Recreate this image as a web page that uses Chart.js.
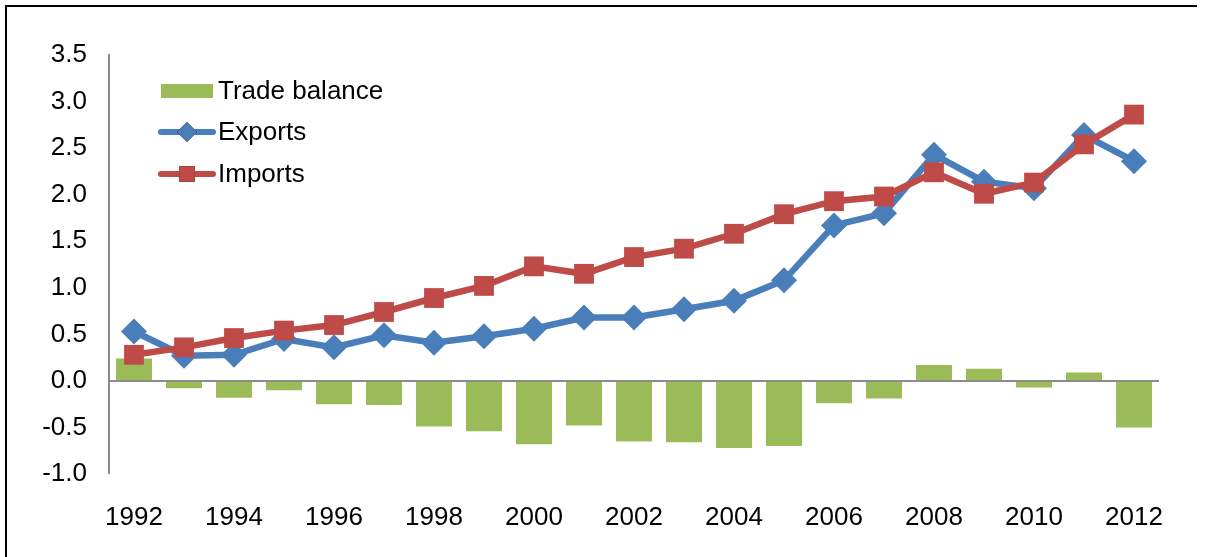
<!DOCTYPE html>
<html>
<head>
<meta charset="utf-8">
<script src="https://cdn.jsdelivr.net/npm/chart.js@4/dist/chart.umd.min.js"></script>
<style>
  html, body { margin: 0; padding: 0; background: #fff; }
  #wrap { width: 1206px; height: 557px; position: relative; }
</style>
</head>
<body>
<div id="wrap"><canvas id="chart"></canvas></div>
<script>
// ---------------------------------------------------------
// DATA
// ---------------------------------------------------------
const years = ["1992", "1993", "1994", "1995", "1996", "1997", "1998", "1999", "2000", "2001",
               "2002", "2003", "2004", "2005", "2006", "2007", "2008", "2009", "2010", "2011", "2012"];

const tradeBalance = [0.24, -0.08, -0.18, -0.10, -0.25, -0.26, -0.49, -0.54, -0.68, -0.48,
                      -0.65, -0.66, -0.72, -0.70, -0.24, -0.19, 0.17, 0.13, -0.07, 0.09, -0.50];

const exportsVals = [0.53, 0.27, 0.28, 0.45, 0.36, 0.49, 0.41, 0.48, 0.56, 0.68,
                     0.68, 0.77, 0.86, 1.08, 1.67, 1.80, 2.43, 2.14, 2.07, 2.64, 2.36];

const importsVals = [0.28, 0.36, 0.46, 0.54, 0.60, 0.74, 0.89, 1.02, 1.23, 1.15,
                     1.33, 1.42, 1.58, 1.79, 1.93, 1.98, 2.24, 2.01, 2.13, 2.54, 2.86];

const yMin = -1.0;
const yMax = 3.5;
const yStep = 0.5;

// ---------------------------------------------------------
// STYLE
// ---------------------------------------------------------
const FONT = "'Liberation Sans', Arial, sans-serif";
const FONT_SIZE = 26;
const GREEN = "#9BBB59";
const BLUE = "#4A7EBB";
const RED = "#BE4B48";
const AXIS_GRAY = "#8C8C8C";

// outer frame (top + left edge like the source image)
const framePlugin = {
  id: "frame",
  afterDraw(chart) {
    const ctx = chart.ctx;
    ctx.save();
    ctx.strokeStyle = "#000";
    ctx.lineWidth = 2;
    ctx.beginPath();
    ctx.moveTo(6, 557);
    ctx.lineTo(6, 6);
    ctx.lineTo(1197, 6);
    ctx.stroke();
    ctx.restore();
  }
};

// legend drawn inside the plot area, top left
const insideLegend = {
  id: "insideLegend",
  afterDatasetsDraw(chart) {
    const ctx = chart.ctx;
    const x0 = 159;
    const textX = 218;
    const rows = [91, 132, 174];
    ctx.save();
    ctx.font = FONT_SIZE + "px " + FONT;
    ctx.textBaseline = "middle";
    ctx.textAlign = "left";
    chart.data.datasets.forEach((ds, i) => {
      const y = rows[i];
      if (ds.type === "bar") {
        ctx.fillStyle = ds.backgroundColor;
        ctx.fillRect(x0 + 2, y - 7, 52, 14);
      } else {
        ctx.strokeStyle = ds.borderColor;
        ctx.lineWidth = 6;
        ctx.lineCap = "round";
        ctx.beginPath();
        ctx.moveTo(x0 + 2, y);
        ctx.lineTo(x0 + 54, y);
        ctx.stroke();
        Chart.helpers.drawPoint(ctx, {
          pointStyle: ds.pointStyle,
          radius: ds.pointStyle === "rect" ? 11 : 10,
          rotation: 0,
          borderWidth: 0
        }, x0 + 28, y);
        ctx.fillStyle = ds.backgroundColor;
        ctx.fill();
      }
      ctx.fillStyle = "#000";
      ctx.fillText(ds.label, textX, y + 1);
    });
    ctx.restore();
  }
};

new Chart(document.getElementById("chart"), {
  data: {
    labels: years,
    datasets: [
      {
        type: "bar",
        label: "Trade balance",
        data: tradeBalance,
        backgroundColor: GREEN,
        barPercentage: 0.72,
        categoryPercentage: 1.0,
        order: 3
      },
      {
        type: "line",
        label: "Exports",
        data: exportsVals,
        borderColor: BLUE,
        backgroundColor: BLUE,
        borderWidth: 6.5,
        tension: 0,
        pointStyle: "rectRot",
        pointRadius: 13,
        pointBorderWidth: 0,
        order: 2
      },
      {
        type: "line",
        label: "Imports",
        data: importsVals,
        borderColor: RED,
        backgroundColor: RED,
        borderWidth: 6.5,
        tension: 0,
        pointStyle: "rect",
        pointRadius: 14,
        pointBorderWidth: 0,
        order: 1
      }
    ]
  },
  options: {
    responsive: true,
    maintainAspectRatio: false,
    animation: false,
    layout: { padding: { top: 55, right: 47, bottom: 0, left: 0 } },
    plugins: {
      legend: { display: false },
      tooltip: { enabled: false }
    },
    scales: {
      x: {
        grid: { display: false, drawTicks: false },
        border: { display: false },
        ticks: {
          autoSkip: false,
          maxRotation: 0,
          padding: 28,
          color: "#000",
          font: { family: FONT, size: FONT_SIZE },
          callback: (v, i) => (i % 2 === 0 ? years[i] : "")
        },
        afterFit: scale => { scale.height = 83; }
      },
      y: {
        min: yMin,
        max: yMax,
        grid: {
          drawTicks: false,
          color: ctx => (ctx.tick && ctx.tick.value === 0 ? AXIS_GRAY : "rgba(0,0,0,0)"),
          lineWidth: ctx => (ctx.tick && ctx.tick.value === 0 ? 2 : 0)
        },
        border: { display: true, color: AXIS_GRAY, width: 2 },
        ticks: {
          stepSize: yStep,
          padding: 22,
          color: "#000",
          font: { family: FONT, size: FONT_SIZE },
          callback: v => v.toFixed(1)
        },
        afterFit: scale => { scale.width = 109; }
      }
    }
  },
  plugins: [framePlugin, insideLegend]
});
</script>
</body>
</html>
